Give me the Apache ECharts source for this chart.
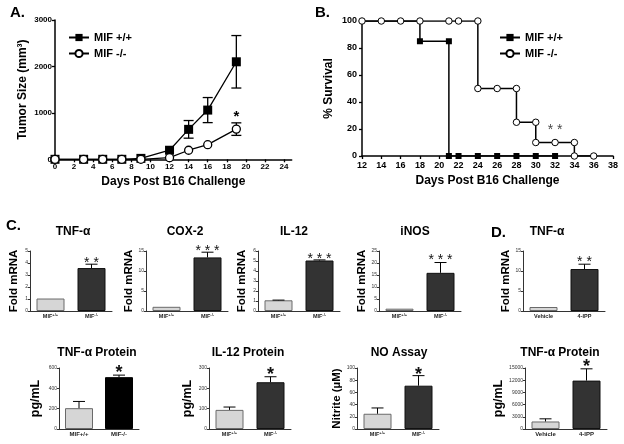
<!DOCTYPE html>
<html><head><meta charset="utf-8">
<script src="https://cdn.jsdelivr.net/npm/echarts@6/dist/echarts.min.js"></script>
<style>html,body{margin:0;padding:0;background:#fff}#c{width:624px;height:444px}</style>
</head><body><div id="c"></div>
<script>
const FONT = '"Liberation Sans", Arial, sans-serif';

// ---------- Panel A : tumour growth ----------
const aDays   = [0, 3, 5, 7, 9, 12, 14, 16, 19];
const aWT     = [0, 0, 0, 0, 20, 195, 645, 1060, 2100];
const aWTErr  = [0, 0, 0, 0, 0, 0, 190, 270, 565];
const aKO     = [0, 0, 0, 0, 0, 35, 195, 315, 650];
const aKOErr  = [0, 0, 0, 0, 0, 0, 0, 0, 135];
const aKOSig  = ['', '', '', '', '', '', '', '', '*'];
const aXTicks = [0, 2, 4, 6, 8, 10, 12, 14, 16, 18, 20, 22, 24];

// ---------- Panel B : survival ----------
const bWTDays = [12, 18, 18, 21, 21, 22, 24, 26, 28, 30, 32];
const bWTSurv = [100, 100, 85, 85, 0, 0, 0, 0, 0, 0, 0];
const bKODays = [12, 14, 16, 18, 21, 22, 24, 24, 26, 28, 28, 30, 30, 32, 34, 34, 36];
const bKOSurv = [100, 100, 100, 100, 100, 100, 100, 50, 50, 50, 25, 25, 10, 10, 10, 0, 0];
const bSigText = ['* *'];
const bSigAt   = [[32, 19]];

// ---------- Panels C / D : bars ----------
const groupsMIF  = ['MIF+/+', 'MIF-/-'];
const groupsDrug = ['Vehicle', '4-IPP'];

const tnfMrna = [1.04, 3.58];  const tnfMrnaErr = [0, 0.32];  const tnfMrnaSig = ['', '* *'];
const coxMrna = [1.05, 13.4];  const coxMrnaErr = [0, 1.3];   const coxMrnaSig = ['', '* * *'];
const il12Mrna = [1.07, 5.05]; const il12MrnaErr = [0.02, 0.06]; const il12MrnaSig = ['', '* * *'];
const inosMrna = [0.97, 15.9]; const inosMrnaErr = [0, 4.3];  const inosMrnaSig = ['', '* * *'];
const ippMrna = [1.0, 10.5];   const ippMrnaErr = [0, 1.2];   const ippMrnaSig = ['', '* *'];

const tnfProt = [205, 510];    const tnfProtErr = [66, 20];   const tnfProtSig = ['', '*'];
const il12Prot = [94, 230];    const il12ProtErr = [14, 27];  const il12ProtSig = ['', '*'];
const noAssay = [25, 71];      const noAssayErr = [9.5, 16.5]; const noAssaySig = ['', '*'];
const ippProt = [1850, 11900]; const ippProtErr = [650, 2900]; const ippProtSig = ['', '*'];

// ---------------------------------------------------------
const grids = [], xAxes = [], yAxes = [], series = [];
const plain = (v) => String(v);

function errRender(sigs, o) {
  return function (params, api) {
    const x = api.value(0), y = api.value(1), e = api.value(2);
    const top = api.coord([x, y + e]);
    const bot = api.coord([x, o.both ? y - e : y]);
    const ch = [];
    const ls = { stroke: '#000', lineWidth: o.lw || 1 };
    if (e > 0) {
      ch.push({ type: 'line', shape: { x1: top[0], y1: top[1], x2: bot[0], y2: bot[1] }, style: ls });
      ch.push({ type: 'line', shape: { x1: top[0] - o.cap / 2, y1: top[1], x2: top[0] + o.cap / 2, y2: top[1] }, style: ls });
      if (o.both) ch.push({ type: 'line', shape: { x1: bot[0] - o.cap / 2, y1: bot[1], x2: bot[0] + o.cap / 2, y2: bot[1] }, style: ls });
    }
    const s = sigs[params.dataIndex];
    if (s) {
      ch.push({ type: 'text', x: top[0], y: top[1] - o.sigDist + 0.77 * o.sigSize,
        style: { text: s, fill: o.sigColor || '#111', textAlign: 'center', textVerticalAlign: 'bottom',
          font: (o.sigWeight || 'normal') + ' ' + o.sigSize + 'px ' + FONT } });
    }
    return { type: 'group', children: ch };
  };
}

function supFmt(v) {
  const m = v.match(/^(MIF)(.*)$/);
  return m ? '{m|' + m[1] + '}{s|' + m[2] + '}' : '{m|' + v + '}';
}

// Panel A
grids.push({ left: 55, top: 20, width: 236.7, height: 139.3 });
xAxes.push({ gridIndex: 0, type: 'value', min: 0, max: 24.8,
  axisLine: { lineStyle: { color: '#000', width: 1.5 } },
  axisTick: { customValues: aXTicks, length: 3, lineStyle: { color: '#000', width: 1.3 } },
  axisLabel: { customValues: aXTicks, formatter: plain, fontSize: 8, fontWeight: 'bold', color: '#000', margin: 3, fontFamily: FONT },
  splitLine: { show: false },
  name: 'Days Post B16 Challenge', nameLocation: 'middle', nameGap: 16,
  nameTextStyle: { fontSize: 12, fontWeight: 'bold', color: '#000', fontFamily: FONT } });
yAxes.push({ gridIndex: 0, type: 'value', min: 0, max: 3000, interval: 1000,
  axisLine: { show: true, lineStyle: { color: '#000', width: 1.5 } },
  axisTick: { show: true, length: 3, lineStyle: { color: '#000', width: 1.3 } },
  axisLabel: { formatter: plain, fontSize: 8, fontWeight: 'bold', color: '#000', margin: 3, fontFamily: FONT },
  splitLine: { show: false },
  name: 'Tumor Size (mm³)', nameLocation: 'middle', nameGap: 26,
  nameTextStyle: { fontSize: 12, fontWeight: 'bold', color: '#000', fontFamily: FONT } });
series.push({ type: 'custom', xAxisIndex: 0, yAxisIndex: 0, z: 1,
  renderItem: errRender([], { both: true, cap: 10, lw: 1.3 }),
  data: aDays.map((d, i) => [d, aWT[i], aWTErr[i]]) });
series.push({ type: 'custom', xAxisIndex: 0, yAxisIndex: 0, z: 1,
  renderItem: errRender(aKOSig, { both: true, cap: 10, lw: 1.3, sigSize: 15, sigDist: 10, sigWeight: 'bold', sigColor: '#000' }),
  data: aDays.map((d, i) => [d, aKO[i], aKOErr[i]]) });
series.push({ name: 'MIF +/+', type: 'line', xAxisIndex: 0, yAxisIndex: 0, z: 3,
  symbol: 'rect', symbolSize: 9, itemStyle: { color: '#000' }, lineStyle: { color: '#000', width: 1.3 },
  data: aDays.map((d, i) => [d, aWT[i]]) });
series.push({ name: 'MIF -/-', type: 'line', xAxisIndex: 0, yAxisIndex: 0, z: 4,
  symbol: 'circle', symbolSize: 8, showAllSymbol: true,
  itemStyle: { color: '#fff', borderColor: '#000', borderWidth: 1.3 }, lineStyle: { color: '#000', width: 1.3 },
  data: aDays.map((d, i) => [d, aKO[i]]) });

// Panel B
grids.push({ left: 362, top: 21, width: 251, height: 135 });
xAxes.push({ gridIndex: 1, type: 'value', min: 12, max: 38, interval: 2,
  axisLine: { lineStyle: { color: '#000', width: 1.5 } },
  axisTick: { length: 3, lineStyle: { color: '#000', width: 1.3 } },
  axisLabel: { formatter: plain, fontSize: 9, fontWeight: 'bold', color: '#000', margin: 5, fontFamily: FONT },
  splitLine: { show: false },
  name: 'Days Post B16 Challenge', nameLocation: 'middle', nameGap: 19,
  nameTextStyle: { fontSize: 12, fontWeight: 'bold', color: '#000', fontFamily: FONT } });
yAxes.push({ gridIndex: 1, type: 'value', min: 0, max: 100, interval: 20,
  axisLine: { show: true, lineStyle: { color: '#000', width: 1.5 } },
  axisTick: { show: true, length: 3, lineStyle: { color: '#000', width: 1.3 } },
  axisLabel: { formatter: plain, fontSize: 9, fontWeight: 'bold', color: '#000', margin: 5, fontFamily: FONT },
  splitLine: { show: false },
  name: '% Survival', nameLocation: 'middle', nameGap: 27,
  nameTextStyle: { fontSize: 12, fontWeight: 'bold', color: '#000', fontFamily: FONT } });
series.push({ name: 'MIF +/+', type: 'line', xAxisIndex: 1, yAxisIndex: 1, z: 3,
  symbol: 'rect', showAllSymbol: true,
  symbolSize: (v, p) => (p.dataIndex < 2 ? 0 : 6),
  itemStyle: { color: '#000' }, lineStyle: { color: '#000', width: 1.5 },
  data: bWTDays.map((d, i) => [d, bWTSurv[i]]) });
series.push({ name: 'MIF -/-', type: 'line', xAxisIndex: 1, yAxisIndex: 1, z: 4,
  symbol: 'circle', symbolSize: 6.5, showAllSymbol: true,
  itemStyle: { color: '#fff', borderColor: '#000', borderWidth: 1 }, lineStyle: { color: '#000', width: 1.5 },
  data: bKODays.map((d, i) => [d, bKOSurv[i]]) });
series.push({ type: 'scatter', xAxisIndex: 1, yAxisIndex: 1, z: 5, symbolSize: 0,
  label: { show: true, position: 'inside', formatter: (p) => bSigText[p.dataIndex],
    fontSize: 14, color: '#111', fontFamily: FONT },
  data: bSigAt });

// bar panels
const light = { color: '#d6d6d6', borderColor: '#6a6a6a', borderWidth: 1 };
const dark = { color: '#333333', borderColor: '#111', borderWidth: 1 };
const black = { color: '#000000', borderColor: '#000', borderWidth: 1 };

function barPanel(grid, cats, vals, errs, sigs, o) {
  const gi = grids.length;
  grids.push(grid);
  xAxes.push({ gridIndex: gi, type: 'category', data: cats,
    axisLine: { lineStyle: { color: '#333', width: 1 } }, axisTick: { show: false },
    axisLabel: o.sup ? { interval: 0, formatter: supFmt, margin: 2, color: '#222',
      rich: { m: { fontSize: 5.5, fontWeight: 'bold', fontFamily: FONT, color: '#222' },
              s: { fontSize: 4, fontWeight: 'bold', fontFamily: FONT, color: '#222', verticalAlign: 'top' } } }
      : { interval: 0, fontSize: o.catSize || 6, fontWeight: 'bold', fontFamily: FONT, color: '#222', margin: 2 } });
  yAxes.push({ gridIndex: gi, type: 'value', min: 0, max: o.max, interval: o.step,
    axisLine: { show: true, lineStyle: { color: '#333', width: 1 } },
    axisTick: { show: true, length: 2, lineStyle: { color: '#333' } },
    axisLabel: { formatter: plain, fontSize: 5, color: '#333', margin: 2, fontFamily: FONT },
    splitLine: { show: false },
    name: o.yName, nameLocation: 'middle', nameGap: o.nameGap,
    nameTextStyle: { fontSize: o.nameSize || 11.5, fontWeight: 'bold', color: '#000', fontFamily: FONT } });
  series.push({ type: 'bar', xAxisIndex: gi, yAxisIndex: gi, barWidth: o.bw || 28, z: 2,
    data: vals.map((v, i) => ({ value: v, itemStyle: i === 0 ? light : (o.dark || dark) })) });
  series.push({ type: 'custom', xAxisIndex: gi, yAxisIndex: gi, z: 3,
    renderItem: errRender(sigs, { cap: 12, lw: 1, sigSize: o.sigSize, sigDist: o.sigDist, sigWeight: o.sigWeight }),
    data: vals.map((v, i) => [i, v, errs[i]]) });
}

const rowTop1 = 251, rowH1 = 60, rowTop2 = 368, rowH2 = 61;
barPanel({ left: 30, top: rowTop1, width: 82, height: rowH1 }, groupsMIF, tnfMrna, tnfMrnaErr, tnfMrnaSig,
  { sup: true, max: 5, step: 1, yName: 'Fold mRNA', nameGap: 10, sigSize: 14, sigDist: 5 });
barPanel({ left: 146, top: rowTop1, width: 82, height: rowH1 }, groupsMIF, coxMrna, coxMrnaErr, coxMrnaSig,
  { sup: true, max: 15, step: 5, yName: 'Fold mRNA', nameGap: 10, sigSize: 14, sigDist: 5 });
barPanel({ left: 258, top: rowTop1, width: 82, height: rowH1 }, groupsMIF, il12Mrna, il12MrnaErr, il12MrnaSig,
  { sup: true, max: 6, step: 1, yName: 'Fold mRNA', nameGap: 10, sigSize: 14, sigDist: 5 });
barPanel({ left: 379, top: rowTop1, width: 82, height: rowH1 }, groupsMIF, inosMrna, inosMrnaErr, inosMrnaSig,
  { sup: true, max: 25, step: 5, yName: 'Fold mRNA', nameGap: 10, sigSize: 14, sigDist: 6 });
barPanel({ left: 523, top: rowTop1, width: 82, height: rowH1 }, groupsDrug, ippMrna, ippMrnaErr, ippMrnaSig,
  { sup: false, catSize: 5.5, max: 15, step: 5, yName: 'Fold mRNA', nameGap: 10, sigSize: 14, sigDist: 6 });

barPanel({ left: 59, top: rowTop2, width: 80, height: rowH2 }, groupsMIF, tnfProt, tnfProtErr, tnfProtSig,
  { sup: false, max: 600, step: 200, yName: 'pg/mL', nameGap: 17, nameSize: 12.5, dark: black, sigSize: 18, sigDist: 7, sigWeight: 'bold' });
barPanel({ left: 209, top: rowTop2, width: 82, height: rowH2 }, groupsMIF, il12Prot, il12ProtErr, il12ProtSig,
  { sup: true, max: 300, step: 100, yName: 'pg/mL', nameGap: 15, nameSize: 12.5, sigSize: 18, sigDist: 7, sigWeight: 'bold' });
barPanel({ left: 357, top: rowTop2, width: 82, height: rowH2 }, groupsMIF, noAssay, noAssayErr, noAssaySig,
  { sup: true, max: 100, step: 20, yName: 'Nitrite (µM)', nameGap: 11, nameSize: 11.5, sigSize: 18, sigDist: 5, sigWeight: 'bold' });
barPanel({ left: 525, top: rowTop2, width: 82, height: rowH2 }, groupsDrug, ippProt, ippProtErr, ippProtSig,
  { sup: false, max: 15000, step: 3000, yName: 'pg/mL', nameGap: 20, nameSize: 12.5, sigSize: 18, sigDist: 7, sigWeight: 'bold' });

// text labels (panel letters and chart titles)
const texts = [
  ['A.', 10, 13, 'left', 15], ['B.', 315, 13, 'left', 15], ['C.', 6, 226, 'left', 15], ['D.', 491, 233, 'left', 15],
  ['TNF-α', 73, 232, 'center', 12], ['COX-2', 185, 232, 'center', 12], ['IL-12', 294, 232, 'center', 12],
  ['iNOS', 415, 232, 'center', 12], ['TNF-α', 547, 232, 'center', 12],
  ['TNF-α Protein', 97, 353, 'center', 12], ['IL-12 Protein', 248, 353, 'center', 12],
  ['NO Assay', 399, 353, 'center', 12], ['TNF-α Protein', 560, 353, 'center', 12]
];

const legendBase = { orient: 'vertical', data: ['MIF +/+', 'MIF -/-'], itemWidth: 20, itemHeight: 9, itemGap: 5,
  selectedMode: false, textStyle: { fontSize: 11, fontWeight: 'bold', color: '#000', fontFamily: FONT } };

const chart = echarts.init(document.getElementById('c'), null, { renderer: 'canvas' });
chart.setOption({
  animation: false,
  backgroundColor: '#fff',
  textStyle: { fontFamily: FONT },
  grid: grids, xAxis: xAxes, yAxis: yAxes, series: series,
  legend: [Object.assign({ left: 63, top: 27 }, legendBase), Object.assign({ left: 494, top: 27 }, legendBase)],
  graphic: texts.map(t => ({ type: 'text', x: t[1], y: t[2],
    style: { text: t[0], textAlign: t[3], textVerticalAlign: 'middle', fill: '#000',
      font: 'bold ' + t[4] + 'px ' + FONT } }))
});
</script></body></html>
